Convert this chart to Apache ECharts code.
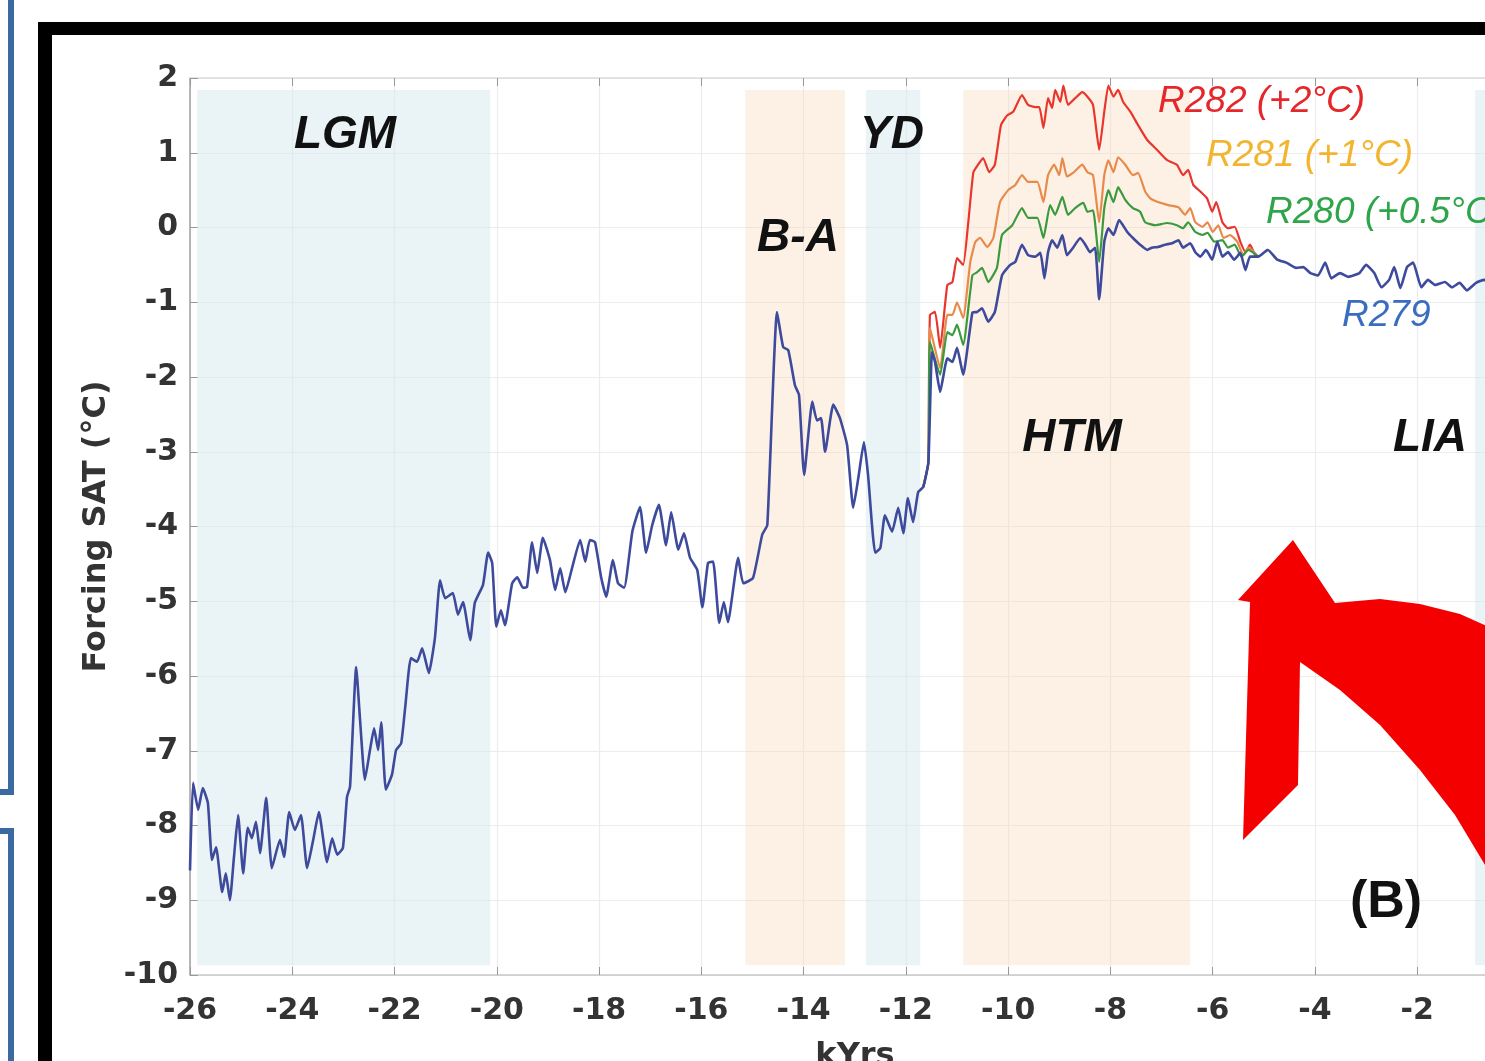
<!DOCTYPE html>
<html>
<head>
<meta charset="utf-8">
<script src="https://cdn.jsdelivr.net/npm/echarts@6/dist/echarts.min.js"></script>
<style>
    html, body { margin: 0; padding: 0; background: #fff; overflow: hidden; }
    #main { width: 1560px; height: 1061px; }
</style>
</head>
<body>
<div id="main"></div>
<script>
// 读图得到的数据 (kYrs, °C)
var r279 = [[-26.0,-8.6],[-25.94,-7.43],[-25.84,-7.79],[-25.75,-7.5],[-25.65,-7.7],[-25.57,-8.46],[-25.49,-8.29],[-25.37,-8.89],[-25.3,-8.64],[-25.22,-9.0],[-25.14,-8.42],[-25.06,-7.86],[-24.96,-8.64],[-24.87,-8.03],[-24.79,-8.17],[-24.71,-7.95],[-24.63,-8.37],[-24.51,-7.63],[-24.4,-8.57],[-24.24,-8.19],[-24.16,-8.42],[-24.06,-7.82],[-23.95,-8.06],[-23.83,-7.86],[-23.71,-8.57],[-23.59,-8.19],[-23.48,-7.82],[-23.32,-8.49],[-23.22,-8.17],[-23.12,-8.39],[-23.01,-8.3],[-22.93,-7.62],[-22.87,-7.48],[-22.75,-5.88],[-22.67,-6.63],[-22.58,-7.39],[-22.48,-6.99],[-22.4,-6.7],[-22.32,-6.99],[-22.26,-6.62],[-22.17,-7.52],[-22.05,-7.32],[-21.97,-6.99],[-21.87,-6.9],[-21.79,-6.41],[-21.68,-5.76],[-21.56,-5.81],[-21.46,-5.63],[-21.33,-5.96],[-21.21,-5.49],[-21.11,-4.72],[-21.01,-4.96],[-20.86,-4.89],[-20.76,-5.18],[-20.66,-5.01],[-20.52,-5.52],[-20.43,-5.02],[-20.27,-4.78],[-20.17,-4.35],[-20.09,-4.49],[-20.01,-5.34],[-19.92,-5.12],[-19.84,-5.32],[-19.7,-4.76],[-19.6,-4.68],[-19.49,-4.82],[-19.41,-4.81],[-19.31,-4.21],[-19.21,-4.62],[-19.1,-4.15],[-18.96,-4.45],[-18.86,-4.85],[-18.76,-4.56],[-18.66,-4.88],[-18.53,-4.56],[-18.37,-4.18],[-18.27,-4.47],[-18.18,-4.18],[-18.08,-4.21],[-17.96,-4.68],[-17.86,-4.94],[-17.73,-4.45],[-17.63,-4.76],[-17.51,-4.82],[-17.35,-4.07],[-17.2,-3.74],[-17.08,-4.35],[-16.96,-3.98],[-16.83,-3.71],[-16.69,-4.25],[-16.59,-3.81],[-16.45,-4.31],[-16.34,-4.09],[-16.22,-4.42],[-16.08,-4.58],[-15.98,-5.08],[-15.87,-4.49],[-15.77,-4.47],[-15.65,-5.29],[-15.56,-5.01],[-15.48,-5.28],[-15.28,-4.42],[-15.18,-4.76],[-14.99,-4.69],[-14.81,-4.11],[-14.71,-3.98],[-14.52,-1.13],[-14.4,-1.6],[-14.3,-1.64],[-14.17,-2.11],[-14.09,-2.24],[-13.99,-3.31],[-13.83,-2.33],[-13.74,-2.58],[-13.66,-2.55],[-13.58,-3.0],[-13.42,-2.37],[-13.29,-2.55],[-13.15,-2.91],[-13.03,-3.75],[-12.93,-3.35],[-12.82,-2.87],[-12.74,-3.31],[-12.6,-4.35],[-12.5,-4.29],[-12.41,-3.85],[-12.27,-4.07],[-12.15,-3.75],[-12.05,-4.09],[-11.96,-3.62],[-11.86,-3.94],[-11.76,-3.54],[-11.66,-3.47],[-11.56,-3.14],[-11.49,-1.67],[-11.43,-1.8],[-11.33,-2.2],[-11.19,-1.75],[-11.09,-1.8],[-11.0,-1.61],[-10.88,-1.97],[-10.7,-1.14],[-10.61,-1.13],[-10.51,-1.08],[-10.39,-1.26],[-10.26,-1.13],[-10.12,-0.64],[-9.96,-0.5],[-9.86,-0.46],[-9.73,-0.23],[-9.61,-0.37],[-9.47,-0.39],[-9.37,-0.34],[-9.29,-0.68],[-9.22,-0.33],[-9.14,-0.17],[-9.04,-0.27],[-8.94,-0.1],[-8.85,-0.37],[-8.73,-0.27],[-8.59,-0.14],[-8.49,-0.23],[-8.4,-0.33],[-8.3,-0.27],[-8.22,-0.96],[-8.12,-0.19],[-8.04,-0.01],[-7.94,-0.1],[-7.83,0.1],[-7.67,-0.06],[-7.56,-0.14],[-7.42,-0.23],[-7.28,-0.3],[-7.19,-0.27],[-7.07,-0.26],[-6.93,-0.23],[-6.79,-0.21],[-6.67,-0.17],[-6.58,-0.27],[-6.44,-0.21],[-6.34,-0.33],[-6.24,-0.39],[-6.13,-0.3],[-6.01,-0.43],[-5.91,-0.19],[-5.81,-0.39],[-5.7,-0.33],[-5.58,-0.43],[-5.46,-0.34],[-5.36,-0.57],[-5.27,-0.39],[-5.11,-0.39],[-4.92,-0.3],[-4.74,-0.43],[-4.56,-0.47],[-4.37,-0.54],[-4.23,-0.53],[-4.09,-0.61],[-3.94,-0.64],[-3.8,-0.47],[-3.68,-0.68],[-3.51,-0.61],[-3.35,-0.66],[-3.13,-0.61],[-3.0,-0.5],[-2.84,-0.61],[-2.7,-0.8],[-2.55,-0.7],[-2.45,-0.53],[-2.33,-0.81],[-2.2,-0.53],[-2.08,-0.47],[-1.92,-0.8],[-1.79,-0.7],[-1.65,-0.77],[-1.46,-0.73],[-1.32,-0.8],[-1.17,-0.74],[-1.03,-0.84],[-0.85,-0.74],[-0.69,-0.7],[-0.5,-0.8]];

var r280 = [[-11.66,-3.47],[-11.56,-3.14],[-11.53,-1.53],[-11.33,-1.97],[-11.19,-1.4],[-11.09,-1.44],[-11.0,-1.3],[-10.88,-1.57],[-10.7,-0.64],[-10.61,-0.6],[-10.51,-0.54],[-10.39,-0.73],[-10.22,-0.54],[-10.12,-0.1],[-9.92,0.03],[-9.73,0.26],[-9.61,0.13],[-9.43,0.13],[-9.31,-0.14],[-9.18,0.3],[-9.08,0.17],[-8.94,0.41],[-8.83,0.17],[-8.69,0.26],[-8.53,0.33],[-8.45,0.21],[-8.34,0.23],[-8.22,-0.46],[-8.12,0.26],[-8.04,0.5],[-7.94,0.34],[-7.85,0.54],[-7.71,0.37],[-7.56,0.26],[-7.42,0.21],[-7.32,0.07],[-7.12,0.03],[-6.89,0.06],[-6.7,0.03],[-6.58,-0.01],[-6.48,0.07],[-6.34,-0.06],[-6.2,-0.1],[-6.1,-0.07],[-5.97,-0.19],[-5.81,-0.17],[-5.7,-0.27],[-5.57,-0.23],[-5.44,-0.39],[-5.3,-0.3],[-5.11,-0.39]];

var r281 = [[-11.66,-3.47],[-11.56,-3.14],[-11.53,-1.34],[-11.33,-1.88],[-11.19,-1.17],[-11.09,-1.17],[-11.0,-1.0],[-10.88,-1.21],[-10.74,-0.46],[-10.64,-0.19],[-10.55,-0.14],[-10.41,-0.26],[-10.29,-0.14],[-10.16,0.34],[-10.0,0.5],[-9.86,0.57],[-9.73,0.7],[-9.61,0.61],[-9.43,0.61],[-9.31,0.34],[-9.22,0.7],[-9.1,0.84],[-9.0,0.7],[-8.94,0.93],[-8.85,0.68],[-8.73,0.73],[-8.55,0.84],[-8.45,0.74],[-8.34,0.7],[-8.22,0.07],[-8.12,0.7],[-8.04,0.9],[-7.94,0.74],[-7.85,0.94],[-7.71,0.84],[-7.56,0.7],[-7.46,0.73],[-7.32,0.48],[-7.22,0.39],[-7.07,0.34],[-6.87,0.3],[-6.67,0.27],[-6.54,0.17],[-6.44,0.26],[-6.34,0.07],[-6.2,0.01],[-6.1,0.07],[-6.0,-0.06],[-5.89,0.03],[-5.79,-0.14],[-5.66,-0.1],[-5.52,-0.19],[-5.4,-0.37],[-5.3,-0.27],[-5.11,-0.39]];

var r282 = [[-11.66,-3.47],[-11.56,-3.14],[-11.53,-1.17],[-11.43,-1.13],[-11.33,-1.61],[-11.19,-0.77],[-11.09,-0.73],[-11.0,-0.41],[-10.88,-0.5],[-10.78,0.07],[-10.68,0.74],[-10.59,0.84],[-10.49,0.93],[-10.37,0.74],[-10.26,0.84],[-10.14,1.37],[-10.02,1.5],[-9.9,1.55],[-9.73,1.77],[-9.61,1.64],[-9.47,1.61],[-9.39,1.61],[-9.31,1.33],[-9.22,1.73],[-9.14,1.6],[-9.08,1.84],[-8.98,1.68],[-8.92,1.9],[-8.83,1.64],[-8.69,1.73],[-8.55,1.81],[-8.45,1.75],[-8.34,1.64],[-8.22,1.04],[-8.12,1.55],[-8.04,1.9],[-7.94,1.75],[-7.85,1.84],[-7.75,1.68],[-7.61,1.55],[-7.46,1.37],[-7.28,1.17],[-7.09,1.04],[-6.89,0.9],[-6.7,0.84],[-6.58,0.7],[-6.48,0.77],[-6.38,0.57],[-6.24,0.48],[-6.11,0.39],[-6.01,0.21],[-5.93,0.34],[-5.81,0.07],[-5.7,-0.01],[-5.57,0.01],[-5.46,-0.19],[-5.36,-0.33],[-5.27,-0.23],[-5.17,-0.37],[-5.11,-0.39]];

// 时期阴影 [起, 止, 类型]
var periods = [[-25.86, -20.13, 'cold'], [-15.14, -13.19, 'warm'], [-12.78, -11.72, 'cold'], [-10.88, -6.44, 'warm'], [-0.87, 0, 'cold']];
var periodTop = 1.84, periodBottom = -9.87;

var xTicks = { min: -26, max: 0, step: 2 };
var yTicks = { min: -10, max: 2, step: 1 };

var coldColor = 'rgba(214,234,240,0.5)';
var warmColor = 'rgba(250,220,190,0.4)';

var chart = echarts.init(document.getElementById('main'));

var areaData = periods.map(function(p) {
    return [
        { xAxis: p[0], yAxis: periodTop, itemStyle: { color: p[2] == 'cold' ? coldColor : warmColor } },
        { xAxis: p[1], yAxis: periodBottom }
    ];
});

var tickFont = { fontFamily: 'DejaVu Sans', fontWeight: 'bold', fontSize: 30, color: '#333' };

function lineSeries(name, data, color, w, z) {
    return {
        name: name, type: 'line', data: data, showSymbol: false, z: z,
        lineStyle: { color: color, width: w }, smooth: 0.15, animation: false
    };
}

var bandText = { fontFamily: 'Liberation Sans', fontWeight: 'bold', fontStyle: 'italic', fontSize: 46, fill: '#111' };
function lbl(x, y, text) {
    var st = Object.assign({}, bandText, { text: text, x: x, y: y, textAlign: 'center', textVerticalAlign: 'middle' });
    return { type: 'text', z: 50, style: st };
}
var runFont = { fontFamily: 'Liberation Sans', fontStyle: 'italic', fontWeight: 'normal', fontSize: 37, textAlign: 'left', textVerticalAlign: 'middle' };

var option = {
    backgroundColor: '#fff',
    animation: false,
    grid: { left: 190, top: 78, right: 40.5, bottom: 86, show: false },
    xAxis: [{
        type: 'value', min: xTicks.min, max: xTicks.max, interval: xTicks.step,
        axisLine: { show: true, onZero: false, lineStyle: { color: '#c8c8c8', width: 1.5 } },
        axisTick: { show: true, inside: true, length: 8, lineStyle: { color: '#999' } },
        axisLabel: Object.assign({ margin: 21 }, tickFont),
        splitLine: { show: true, lineStyle: { color: '#ececec', width: 1.2 } }
    }, {
        type: 'value', position: 'top', min: xTicks.min, max: xTicks.max, interval: xTicks.step,
        axisLine: { show: true, onZero: false, lineStyle: { color: '#dcdcdc', width: 1.5 } },
        axisTick: { show: true, inside: true, length: 8, lineStyle: { color: '#999' } },
        axisLabel: { show: false }, splitLine: { show: false }
    }],
    yAxis: {
        type: 'value', min: yTicks.min, max: yTicks.max, interval: yTicks.step,
        axisLine: { show: true, onZero: false, lineStyle: { color: '#a0a0a0', width: 1.5 } },
        axisTick: { show: true, inside: true, length: 8, lineStyle: { color: '#999' } },
        axisLabel: Object.assign({ margin: 12 }, tickFont),
        splitLine: { show: true, lineStyle: { color: '#ececec', width: 1.2 } },
        name: 'Forcing SAT (°C)', nameLocation: 'middle', nameGap: 69,
        nameTextStyle: { fontFamily: 'DejaVu Sans', fontWeight: 'bold', fontSize: 32, color: '#333' }
    },
    series: [
        {
            type: 'line', data: [], silent: true,
            markArea: { silent: true, data: areaData }
        },
        lineSeries('R282', r282, '#e8362e', 2.2, 3),
        lineSeries('R281', r281, '#e88a4a', 2.2, 4),
        lineSeries('R280', r280, '#3a9a3e', 2.2, 5),
        lineSeries('R279', r279, '#3e4a9c', 2.6, 6)
    ],
    graphic: [
        // 黑色外框
        { type: 'rect', z: 100, shape: { x: 38, y: 22, width: 1560, height: 13 }, style: { fill: '#000' } },
        { type: 'rect', z: 100, shape: { x: 38, y: 22, width: 14, height: 1050 }, style: { fill: '#000' } },
        // 左侧蓝框
        { type: 'polyline', z: 100, shape: { points: [[11, -5], [11, 792], [-5, 792]] }, style: { stroke: '#3a6aa0', lineWidth: 6, fill: null } },
        { type: 'polyline', z: 100, shape: { points: [[-5, 831], [11, 831], [11, 1070]] }, style: { stroke: '#3a6aa0', lineWidth: 6, fill: null } },
        // 时期标签
        lbl(345, 135, 'LGM'),
        lbl(892, 135, 'YD'),
        lbl(798, 238, 'B-A'),
        lbl(1072, 438, 'HTM'),
        lbl(1430, 438, 'LIA'),
        { type: 'text', z: 50, style: Object.assign({}, runFont, { text: 'R282 (+2°C)', x: 1158, y: 102, fill: '#e5262a' }) },
        { type: 'text', z: 50, style: Object.assign({}, runFont, { text: 'R281 (+1°C)', x: 1206, y: 156, fill: '#f3b530' }) },
        { type: 'text', z: 50, style: Object.assign({}, runFont, { text: 'R280 (+0.5°C)', x: 1266, y: 213, fill: '#2fa54a' }) },
        { type: 'text', z: 50, style: Object.assign({}, runFont, { text: 'R279', x: 1342, y: 316, fill: '#3a6cc0' }) },
        { type: 'text', z: 50, style: { text: 'kYrs', x: 855, y: 1041, textAlign: 'center', textVerticalAlign: 'top', fontFamily: 'DejaVu Sans', fontWeight: 'bold', fontSize: 32, fill: '#333' } },
        { type: 'text', z: 50, style: { text: '(B)', x: 1386, y: 903, textAlign: 'center', textVerticalAlign: 'middle', fontFamily: 'Liberation Sans', fontWeight: 'bold', fontSize: 52, fill: '#111' } },
        // 红色箭头
        { type: 'polygon', z: 60, shape: { points: [[1293, 540], [1238, 600], [1250, 602], [1243, 840], [1298, 785], [1300, 662], [1340, 690], [1380, 725], [1420, 770], [1455, 815], [1485, 865], [1520, 930], [1560, 930], [1560, 665], [1500, 632], [1460, 614], [1420, 604], [1380, 599], [1335, 603]] }, style: { fill: '#f50000' } }
    ]
};
chart.setOption(option);
</script>
</body>
</html>
